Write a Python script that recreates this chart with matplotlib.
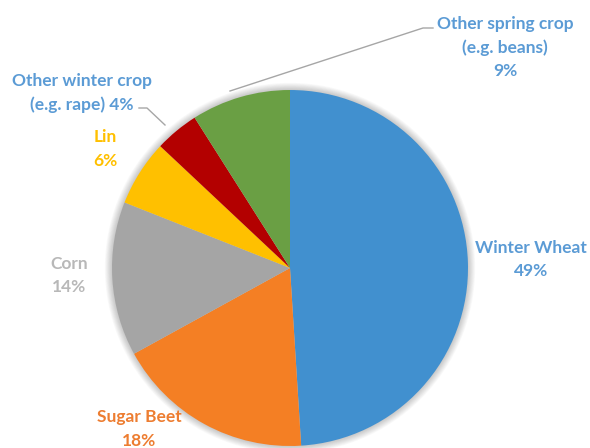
import matplotlib
matplotlib.use('Agg')
import matplotlib.pyplot as plt
from matplotlib.patches import Circle

categories = ['Winter Wheat', 'Sugar Beet', 'Corn', 'Lin',
              'Other winter crop\n(e.g. rape)', 'Other spring crop\n(e.g. beans)']
values = [49, 18, 14, 6, 4, 9]
wedge_colors = ['#4190CF', '#F47F24', '#A5A5A5', '#FFC000', '#B30000', '#6A9F44']
label_colors = ['#5B9BD5', '#ED7D31', '#B8B8B8', '#FFC000', '#5B9BD5', '#5B9BD5']

W, H = 590, 448
fig = plt.figure(figsize=(W / 100, H / 100), dpi=100)
ax = fig.add_axes([0, 0, 1, 1])

cx, cy, r = 290, H - 268, 178

# soft shadow
for k in range(1, 10):
    ax.add_patch(Circle((cx, cy), r + k * 0.8, color='black', alpha=0.022, lw=0, zorder=0))

ax.pie(values, colors=wedge_colors, startangle=90, counterclock=False,
       center=(cx, cy), radius=r, wedgeprops=dict(linewidth=0))
ax.set_xlim(0, W)
ax.set_ylim(0, H)
ax.set_aspect('equal')
ax.axis('off')

# label text: lines built from categories and values
label_lines = [
    [categories[0], f'{values[0]}%'],
    [categories[1], f'{values[1]}%'],
    [categories[2], f'{values[2]}%'],
    [categories[3], f'{values[3]}%'],
    [categories[4].split('\n')[0], categories[4].split('\n')[1] + f' {values[4]}%'],
    [categories[5].split('\n')[0], categories[5].split('\n')[1], f'{values[5]}%'],
]
label_pos = [(531, 247), (139, 416), (69, 263), (105, 136), (82, 80), (505, 23)]
gap = 23.5
for lines, (x, y), c in zip(label_lines, label_pos, label_colors):
    for i, t in enumerate(lines):
        ax.text(x, H - (y + i * gap + 6), t, ha='center', va='baseline',
                fontsize=12.5, fontweight='bold', family=['Lato', 'DejaVu Sans'], color=c)

# leader lines
ax.plot([139, 147, 165], [H - 108, H - 108, H - 125], color='#A6A6A6', lw=1)
ax.plot([433, 423, 230], [H - 28, H - 28, H - 91], color='#A6A6A6', lw=1)

fig.savefig('out.png', dpi=100)
